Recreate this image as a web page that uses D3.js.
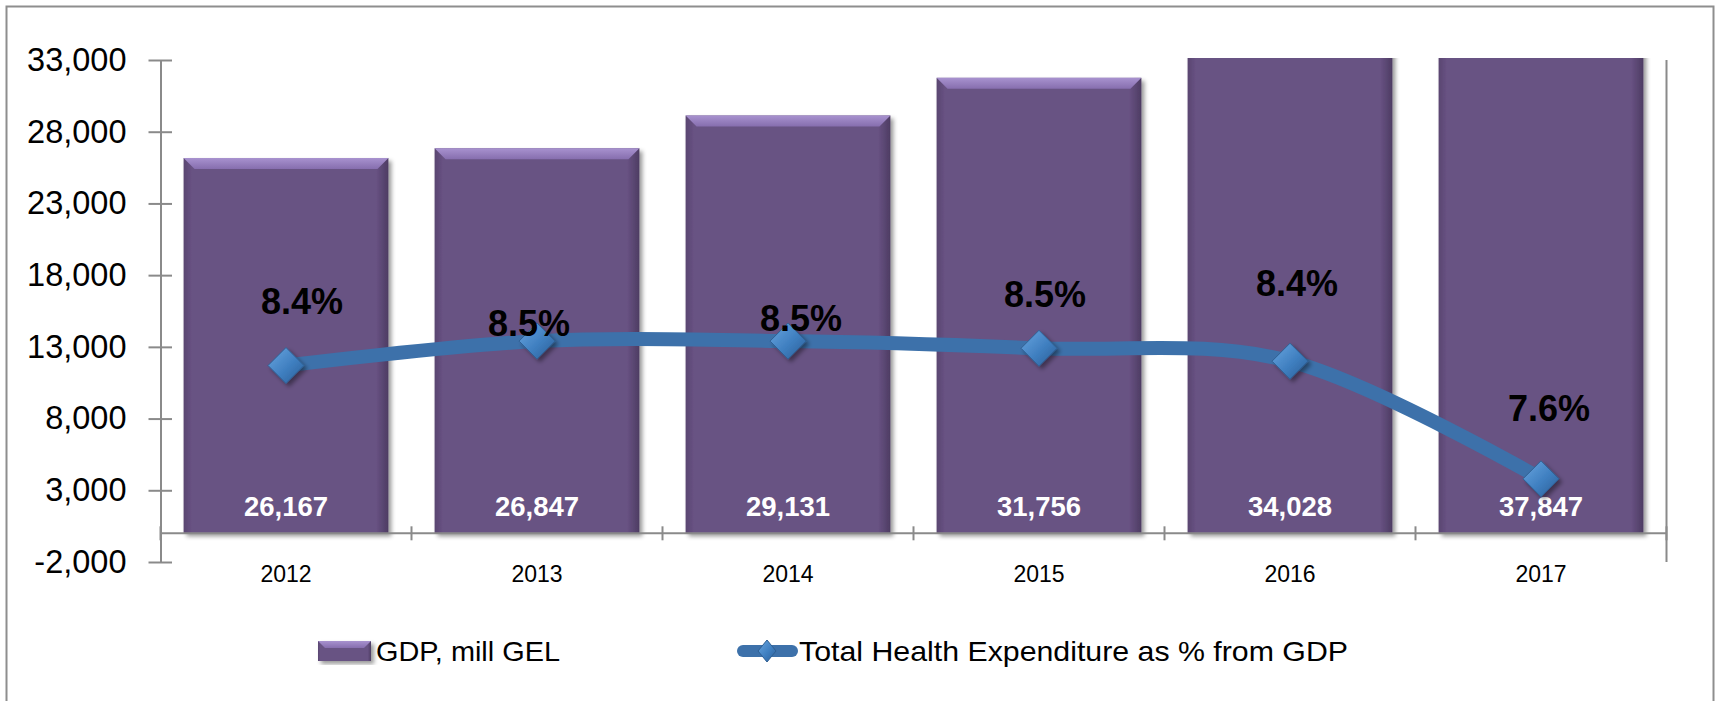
<!DOCTYPE html>
<html>
<head>
<meta charset="utf-8">
<script src="https://cdn.jsdelivr.net/npm/d3@7"></script>
<style>
  html, body { margin: 0; padding: 0; background: #fff; }
  svg { display: block; font-family: "Liberation Sans", Arial, sans-serif; }
</style>
</head>
<body>
<div id="chart"></div>
<script>
// data
var years = ["2012", "2013", "2014", "2015", "2016", "2017"];
var gdp = [26167, 26847, 29131, 31756, 34028, 37847];
var healthPct = [8.37, 8.54, 8.54, 8.49, 8.40, 7.58];
var yTicks = [-2000, 3000, 8000, 13000, 18000, 23000, 28000, 33000];
var yTickLabels = ["-2,000", "3,000", "8,000", "13,000", "18,000", "23,000", "28,000", "33,000"];
var legendLabels = ["GDP, mill GEL", "Total Health Expenditure as % from GDP"];

// where the % labels sit relative to their marker (they were hand placed)
var pctLabelShift = [[16, -52], [-8, -5], [13, -10], [6, -41], [7, -65], [8, -58]];

var W = 1715, H = 701;
var plotLeft = 160.5, plotRight = 1666.5, plotTop = 60, plotBottom = 562;
var axisColor = "#8a8a8a";

var svg = d3.select("#chart").append("svg")
    .attr("width", W)
    .attr("height", H);

var defs = svg.append("defs");

// bar body: darker edges left and right
var gBody = defs.append("linearGradient").attr("id", "barBody")
    .attr("x1", "0%").attr("x2", "100%").attr("y1", "0%").attr("y2", "0%");
gBody.append("stop").attr("offset", "0%").attr("stop-color", "#594570");
gBody.append("stop").attr("offset", "4%").attr("stop-color", "#685283");
gBody.append("stop").attr("offset", "94%").attr("stop-color", "#685283");
gBody.append("stop").attr("offset", "100%").attr("stop-color", "#4d3c62");

var gTop = defs.append("linearGradient").attr("id", "barTop")
    .attr("x1", "0%").attr("x2", "0%").attr("y1", "0%").attr("y2", "100%");
gTop.append("stop").attr("offset", "0%").attr("stop-color", "#a892cf");
gTop.append("stop").attr("offset", "100%").attr("stop-color", "#866eae");

var gDia = defs.append("linearGradient").attr("id", "diamond")
    .attr("x1", "0%").attr("x2", "100%").attr("y1", "0%").attr("y2", "100%");
gDia.append("stop").attr("offset", "0%").attr("stop-color", "#6aa6e0");
gDia.append("stop").attr("offset", "55%").attr("stop-color", "#3f7fc0");
gDia.append("stop").attr("offset", "100%").attr("stop-color", "#2a5d96");

var shadow = defs.append("filter").attr("id", "shadow")
    .attr("x", "-10%").attr("y", "-10%").attr("width", "130%").attr("height", "130%");
shadow.append("feDropShadow").attr("dx", 3).attr("dy", 3).attr("stdDeviation", 2)
    .attr("flood-color", "#000").attr("flood-opacity", 0.4);

defs.append("clipPath").attr("id", "plotClip")
    .append("rect")
    .attr("x", plotLeft).attr("y", plotTop - 2)
    .attr("width", plotRight - plotLeft).attr("height", plotBottom - plotTop + 2);

// outer chart border
svg.append("rect")
    .attr("x", 6.5).attr("y", 6.5)
    .attr("width", W - 8).attr("height", H + 20)
    .attr("fill", "none")
    .attr("stroke", "#8e8e8e")
    .attr("stroke-width", 2);

/******** scales ********/
var x = d3.scaleBand()
    .domain(years)
    .range([plotLeft, plotRight])
    .paddingInner(0.184)
    .paddingOuter(0.092);

var y = d3.scaleLinear()
    .domain([-2000, 33000])
    .range([plotBottom, plotTop]);

var y2 = d3.scaleLinear()
    .domain([7, 10.5])
    .range([plotBottom, plotTop]);

/******** bars ********/
var bars = svg.append("g").attr("clip-path", "url(#plotClip)")
    .selectAll("g")
    .data(gdp)
    .enter().append("g");

bars.append("rect")
    .attr("x", function (d, i) { return x(years[i]); })
    .attr("y", function (d) { return y(d); })
    .attr("width", x.bandwidth())
    .attr("height", function (d) { return y(0) - y(d); })
    .attr("fill", "url(#barBody)")
    .attr("filter", "url(#shadow)");

var bev = 11;
bars.append("polygon")
    .attr("points", function (d, i) {
        var x0 = x(years[i]), x1 = x0 + x.bandwidth(), t = y(d);
        return [[x0, t], [x1, t], [x1 - bev, t + bev], [x0 + bev, t + bev]].join(" ");
    })
    .attr("fill", "url(#barTop)");

/******** axes ********/
var yAxis = svg.append("g")
    .attr("transform", "translate(" + plotLeft + ",0)")
    .call(d3.axisLeft(y).tickValues(yTicks).tickSize(0).tickPadding(34)
        .tickFormat(function (d, i) { return yTickLabels[i]; }));
yAxis.select(".domain").attr("stroke", axisColor).attr("stroke-width", 2);
yAxis.selectAll(".tick text")
    .attr("font-size", 32.5)
    .attr("fill", "#000")
    .attr("font-family", "Liberation Sans, Arial, sans-serif");
yAxis.selectAll(".tick").append("line")
    .attr("x1", -12).attr("x2", 11.5)
    .attr("stroke", axisColor).attr("stroke-width", 2);

// category axis at zero
svg.append("line")
    .attr("x1", plotLeft).attr("x2", plotRight)
    .attr("y1", y(0)).attr("y2", y(0))
    .attr("stroke", axisColor).attr("stroke-width", 2);
svg.selectAll(".cat-tick")
    .data(d3.range(years.length + 1))
    .enter().append("line")
    .attr("class", "cat-tick")
    .attr("x1", function (k) { return plotLeft + k * x.step(); })
    .attr("x2", function (k) { return plotLeft + k * x.step(); })
    .attr("y1", y(0) - 7).attr("y2", y(0) + 7)
    .attr("stroke", axisColor).attr("stroke-width", 2);

svg.selectAll(".cat-label")
    .data(years)
    .enter().append("text")
    .attr("class", "cat-label")
    .attr("x", function (d) { return x(d) + x.bandwidth() / 2; })
    .attr("y", 582)
    .attr("text-anchor", "middle")
    .attr("font-size", 23)
    .text(function (d) { return d; });

// secondary axis (no labels)
svg.append("line")
    .attr("x1", plotRight).attr("x2", plotRight)
    .attr("y1", y2(10.5)).attr("y2", y2(7))
    .attr("stroke", axisColor).attr("stroke-width", 2);

/******** bar value labels ********/
svg.selectAll(".gdp-label")
    .data(gdp)
    .enter().append("text")
    .attr("class", "gdp-label")
    .attr("x", function (d, i) { return x(years[i]) + x.bandwidth() / 2; })
    .attr("y", y(0) - 17)
    .attr("text-anchor", "middle")
    .attr("font-size", 27.5)
    .attr("font-weight", "bold")
    .attr("fill", "#fff")
    .text(function (d) { return d3.format(",")(d); });

/******** line ********/
var cx = function (i) { return x(years[i]) + x.bandwidth() / 2; };

var line = d3.line()
    .x(function (d, i) { return cx(i); })
    .y(function (d) { return y2(d); })
    .curve(d3.curveCardinal.tension(0));

svg.append("path")
    .datum(healthPct)
    .attr("d", line)
    .attr("fill", "none")
    .attr("stroke", "#3d71aa")
    .attr("stroke-width", 14)
    .attr("stroke-linecap", "round");

function diamondPts(px, py, rx, ry) {
    return [[px, py - ry], [px + rx, py], [px, py + ry], [px - rx, py]].join(" ");
}

svg.selectAll(".marker")
    .data(healthPct)
    .enter().append("polygon")
    .attr("class", "marker")
    .attr("points", function (d, i) { return diamondPts(cx(i), y2(d), 18, 18); })
    .attr("fill", "url(#diamond)")
    .attr("stroke", "#2f5f92")
    .attr("stroke-width", 1)
    .attr("filter", "url(#shadow)");

svg.selectAll(".pct-label")
    .data(healthPct)
    .enter().append("text")
    .attr("class", "pct-label")
    .attr("x", function (d, i) { return cx(i) + pctLabelShift[i][0]; })
    .attr("y", function (d, i) { return y2(d) + pctLabelShift[i][1]; })
    .attr("text-anchor", "middle")
    .attr("font-size", 36)
    .attr("font-weight", "bold")
    .attr("fill", "#000")
    .text(function (d) { return d3.format(".1f")(d) + "%"; });

/******** legend ********/
var legend = svg.append("g");
var lgY = 651;

var icon = legend.append("g");
icon.append("rect")
    .attr("x", 318).attr("y", lgY - 10)
    .attr("width", 53).attr("height", 20)
    .attr("fill", "url(#barBody)")
    .attr("filter", "url(#shadow)");
icon.append("polygon")
    .attr("points", [[318, lgY - 10], [371, lgY - 10], [364, lgY - 3], [325, lgY - 3]].join(" "))
    .attr("fill", "url(#barTop)");
legend.append("text")
    .attr("x", 376).attr("y", lgY + 10)
    .attr("font-size", 28)
    .attr("textLength", 184)
    .attr("lengthAdjust", "spacingAndGlyphs")
    .text(legendLabels[0]);

legend.append("line")
    .attr("x1", 743).attr("x2", 792)
    .attr("y1", lgY).attr("y2", lgY)
    .attr("stroke", "#3d71aa")
    .attr("stroke-width", 12)
    .attr("stroke-linecap", "round");
legend.append("polygon")
    .attr("points", diamondPts(767, lgY, 9, 11))
    .attr("fill", "url(#diamond)")
    .attr("stroke", "#2f5f92")
    .attr("stroke-width", 1);
legend.append("text")
    .attr("x", 799).attr("y", lgY + 10)
    .attr("font-size", 28)
    .attr("textLength", 549)
    .attr("lengthAdjust", "spacingAndGlyphs")
    .text(legendLabels[1]);
</script>
</body>
</html>
